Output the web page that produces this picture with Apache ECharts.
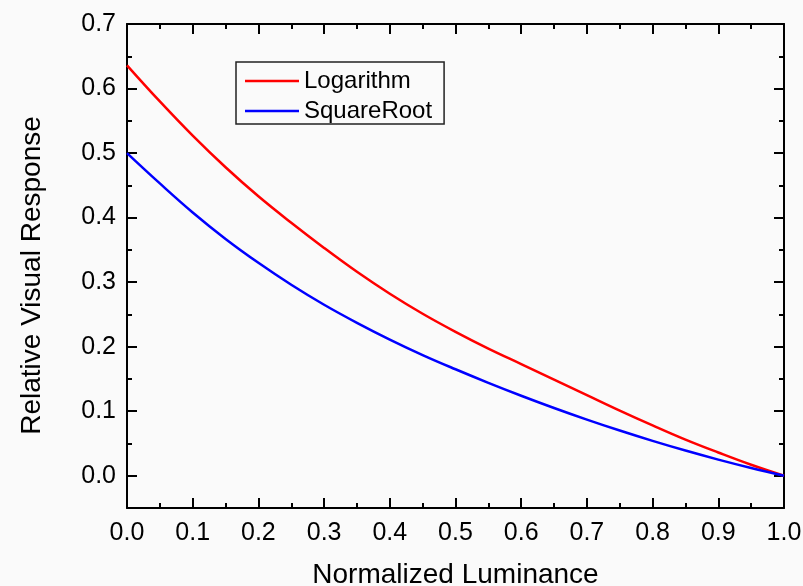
<!DOCTYPE html>
<html>
<head>
<meta charset="utf-8">
<script src="https://cdn.jsdelivr.net/npm/echarts@6/dist/echarts.min.js"></script>
<style>
html, body { margin: 0; padding: 0; background: #fafafa; }
#chart { width: 803px; height: 586px; }
</style>
</head>
<body>
<div id="chart"></div>
<script>
// values
var luminance = [0, 0.05, 0.1, 0.15, 0.2, 0.25, 0.3, 0.35, 0.4, 0.45, 0.5,
                 0.55, 0.6, 0.65, 0.7, 0.75, 0.8, 0.85, 0.9, 0.95, 1.0];
var logarithm = [0.636, 0.580, 0.527, 0.478, 0.433, 0.392, 0.353, 0.316, 0.282, 0.251, 0.223,
                 0.197, 0.173, 0.149, 0.125, 0.101, 0.078, 0.056, 0.036, 0.017, 0];
var squareRoot = [0.500, 0.453, 0.408, 0.367, 0.330, 0.296, 0.265, 0.237, 0.211, 0.187, 0.165,
                  0.144, 0.124, 0.105, 0.087, 0.070, 0.054, 0.039, 0.025, 0.012, 0];
var yMajorTicks = [0, 0.1, 0.2, 0.3, 0.4, 0.5, 0.6, 0.7];

var chart = echarts.init(document.getElementById('chart'));

var font = 'Liberation Sans, Arial, sans-serif';
var black = '#000';

function pairs(ys) {
	return luminance.map(function (x, i) { return [x, ys[i]]; });
}

var axisLine = { show: true, onZero: false, lineStyle: { color: black, width: 2 } };
var majorTick = { show: true, inside: true, length: 10, lineStyle: { color: black, width: 2 } };
var minorTick = { show: true, splitNumber: 2, length: 5, lineStyle: { color: black, width: 2 } };
var fmt = function (v) { return v.toFixed(1); };

var gridBox = { left: 127, right: 19, top: 24, bottom: 78, containLabel: false, outerBoundsMode: 'none' };

var option = {
	backgroundColor: '#fafafa',
	animation: false,
	textStyle: { fontFamily: font },
	grid: [gridBox, gridBox],
	legend: {
		orient: 'vertical',
		left: 236,
		top: 62,
		padding: [7, 12, 1, 9],
		icon: 'rect',
		itemGap: 6,
		itemWidth: 54,
		itemHeight: 2.5,
		itemTextGap: 7,
		borderColor: '#222',
		borderWidth: 1.5,
		textStyle: { fontFamily: font, fontSize: 24, color: black },
		data: ['Logarithm', 'SquareRoot']
	},
	xAxis: [
		{
			type: 'value', gridIndex: 0, position: 'bottom',
			min: 0, max: 1, interval: 0.1,
			axisLine: axisLine, axisTick: majorTick, minorTick: minorTick,
			splitLine: { show: false }, minorSplitLine: { show: false },
			axisLabel: { margin: 13, fontSize: 25, color: black, fontFamily: font, formatter: fmt },
			name: 'Normalized Luminance',
			nameLocation: 'middle',
			nameGap: 53,
			nameTextStyle: { fontSize: 28, color: black, fontFamily: font }
		},
		{
			type: 'value', gridIndex: 0, position: 'top',
			min: 0, max: 1, interval: 0.1,
			axisLine: axisLine, axisTick: majorTick, minorTick: minorTick,
			splitLine: { show: false }, minorSplitLine: { show: false },
			axisLabel: { show: false }
		},
		{
			type: 'value', gridIndex: 1, min: 0, max: 1, show: false
		}
	],
	yAxis: [
		{
			type: 'value', gridIndex: 0, position: 'left',
			min: -0.05, max: 0.7,
			axisLine: axisLine,
			axisTick: { show: true, inside: true, length: 10, customValues: yMajorTicks, lineStyle: { color: black, width: 2 } },
			splitLine: { show: false },
			axisLabel: { margin: 11, fontSize: 25, color: black, fontFamily: font, customValues: yMajorTicks, formatter: fmt },
			name: 'Relative Visual Response',
			nameLocation: 'middle',
			nameGap: 81,
			nameTextStyle: { fontSize: 28, color: black, fontFamily: font, padding: [0, 19, 0, 0] }
		},
		{
			type: 'value', gridIndex: 0, position: 'right',
			min: -0.05, max: 0.7,
			axisLine: axisLine,
			axisTick: { show: true, inside: true, length: 10, customValues: yMajorTicks, lineStyle: { color: black, width: 2 } },
			splitLine: { show: false },
			axisLabel: { show: false }
		},
		{
			// minor ticks, every 0.1 counted from -0.05
			type: 'value', gridIndex: 1, position: 'left',
			min: -0.05, max: 0.7, interval: 0.1,
			axisLine: { show: false },
			axisTick: { show: true, inside: true, length: 5, lineStyle: { color: black, width: 2 } },
			splitLine: { show: false },
			axisLabel: { show: false }
		},
		{
			type: 'value', gridIndex: 1, position: 'right',
			min: -0.05, max: 0.7, interval: 0.1,
			axisLine: { show: false },
			axisTick: { show: true, inside: true, length: 5, lineStyle: { color: black, width: 2 } },
			splitLine: { show: false },
			axisLabel: { show: false }
		}
	],
	series: [
		{
			name: 'Logarithm',
			type: 'line',
			xAxisIndex: 0, yAxisIndex: 0,
			data: pairs(logarithm),
			smooth: 0.4,
			symbol: 'none',
			lineStyle: { color: '#ff0000', width: 2.5 },
			itemStyle: { color: '#ff0000' }
		},
		{
			name: 'SquareRoot',
			type: 'line',
			xAxisIndex: 0, yAxisIndex: 0,
			data: pairs(squareRoot),
			smooth: 0.4,
			symbol: 'none',
			lineStyle: { color: '#0000ff', width: 2.5 },
			itemStyle: { color: '#0000ff' }
		}
	]
};

chart.setOption(option);
</script>
</body>
</html>
